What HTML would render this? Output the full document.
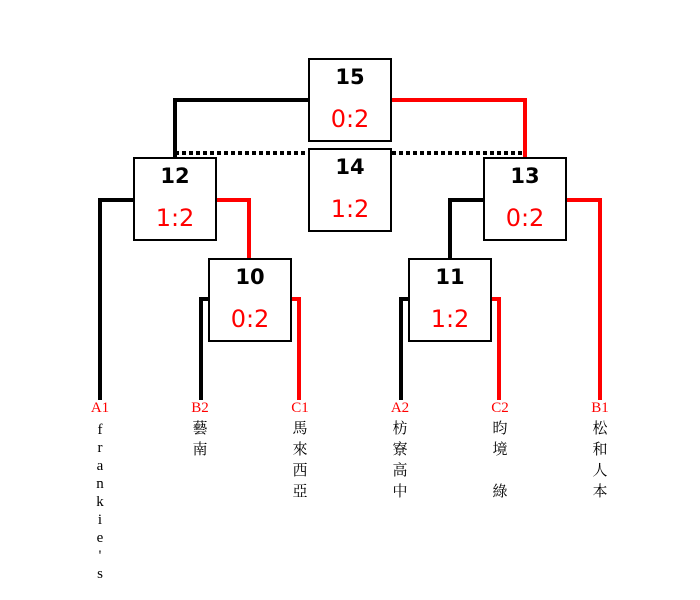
<!DOCTYPE html>
<html><head><meta charset="utf-8"><style>
body{margin:0;background:#fff;width:700px;height:600px;overflow:hidden;position:relative}
.b{position:absolute;width:80px;height:80px;border:2px solid #000;background:#fff;text-align:center;font-family:"DejaVu Sans","Liberation Sans",sans-serif}
.n{font-weight:bold;font-size:21px;margin-top:2px;height:30px;line-height:30px}
.s{color:#f00;font-size:24px;line-height:34px;margin-top:10px}
.l{position:absolute;width:30px;text-align:center;font-family:"Liberation Serif","Noto Serif CJK SC",serif;font-size:15px;line-height:21px;top:398px}
.l span{color:#f00}
.f{line-height:18px}
</style></head><body>
<svg width="700" height="600" style="position:absolute;left:0;top:0">
<g fill="none" stroke-width="4">
<path d="M308 100H175V158" stroke="#000"/>
<path d="M391 100H525V158" stroke="#f00"/>
<path d="M175 153H525" stroke="#000" stroke-dasharray="4,3"/>
<path d="M134 200H100V400" stroke="#000"/>
<path d="M216 200H249V259" stroke="#f00"/>
<path d="M209 299H201V400" stroke="#000"/>
<path d="M291 299H299V400" stroke="#f00"/>
<path d="M409 299H401V400" stroke="#000"/>
<path d="M491 299H499V400" stroke="#f00"/>
<path d="M484 200H450V259" stroke="#000"/>
<path d="M566 200H600V400" stroke="#f00"/>
</g></svg>
<div class="b" style="left:308px;top:58px"><div class="n">15</div><div class="s">0:2</div></div>
<div class="b" style="left:308px;top:148px"><div class="n">14</div><div class="s">1:2</div></div>
<div class="b" style="left:133px;top:157px"><div class="n">12</div><div class="s">1:2</div></div>
<div class="b" style="left:483px;top:157px"><div class="n">13</div><div class="s">0:2</div></div>
<div class="b" style="left:208px;top:258px"><div class="n">10</div><div class="s">0:2</div></div>
<div class="b" style="left:408px;top:258px"><div class="n">11</div><div class="s">1:2</div></div>
<div class="l" style="left:85px"><span>A1</span><div class="f" style="margin-top:2px">f<br>r<br>a<br>n<br>k<br>i<br>e<br>'<br>s</div></div>
<div class="l" style="left:185px"><span>B2</span><br>藝<br>南</div>
<div class="l" style="left:285px"><span>C1</span><br>馬<br>來<br>西<br>亞</div>
<div class="l" style="left:385px"><span>A2</span><br>枋<br>寮<br>高<br>中</div>
<div class="l" style="left:485px"><span>C2</span><br>昀<br>境<br><br>綠</div>
<div class="l" style="left:585px"><span>B1</span><br>松<br>和<br>人<br>本</div>
</body></html>
